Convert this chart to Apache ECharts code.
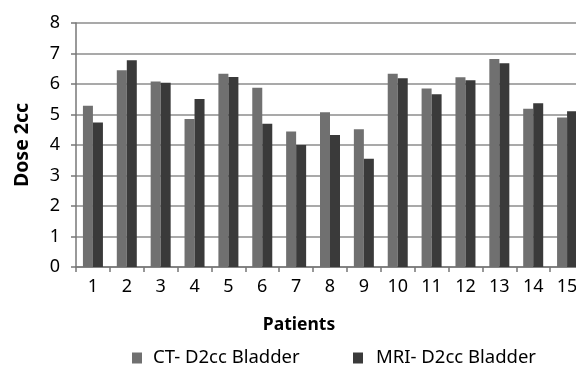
<!DOCTYPE html>
<html>
<head>
<meta charset="utf-8">
<script src="https://cdn.jsdelivr.net/npm/echarts@6/dist/echarts.min.js"></script>
<style>
html,body{margin:0;padding:0;background:#fff;overflow:hidden;width:576px;height:367px;}
#chart{width:600px;height:367px;}
</style>
</head>
<body>
<div id="chart"></div>
<script>
var categories = ['1','2','3','4','5','6','7','8','9','10','11','12','13','14','15'];
var ctValues  = [5.29, 6.45, 6.08, 4.85, 6.34, 5.88, 4.44, 5.07, 4.52, 6.34, 5.85, 6.22, 6.82, 5.19, 4.90];
var mriValues = [4.74, 6.78, 6.04, 5.51, 6.23, 4.70, 4.00, 4.33, 3.55, 6.19, 5.66, 6.12, 6.68, 5.37, 5.11];
var seriesNames = ['CT- D2cc Bladder', 'MRI- D2cc Bladder'];
var yTicks = [0, 8, 1];

var font = '"Noto Sans", "Open Sans", sans-serif';
var chart = echarts.init(document.getElementById('chart'), null, {renderer: 'canvas'});
chart.setOption({
  animation: false,
  backgroundColor: '#ffffff',
  textStyle: {fontFamily: font},
  grid: {left: 76, top: 23, width: 508, height: 244, containLabel: false},
  legend: [
    {data: [seriesNames[0]], left: 129, top: 345, padding: 3, itemWidth: 10, itemHeight: 11, icon: 'rect',
     textStyle: {fontSize: 18.5, lineHeight: 20, color: '#000', fontFamily: font, padding: [0, 0, 0, 6]}},
    {data: [seriesNames[1]], left: 350, top: 345, padding: 3, itemWidth: 10, itemHeight: 11, icon: 'rect',
     textStyle: {fontSize: 18.5, lineHeight: 20, color: '#000', fontFamily: font, padding: [0, 0, 0, 8]}}
  ],
  xAxis: {
    type: 'category',
    data: categories,
    name: 'Patients',
    nameLocation: 'middle',
    nameGap: 49,
    nameTextStyle: {fontSize: 17.5, fontWeight: 'bold', color: '#000', fontFamily: font, padding: [0, 62, 0, 0]},
    axisLine: {lineStyle: {color: '#777', width: 1.5}},
    axisTick: {show: true, alignWithLabel: false, interval: 0, length: 5, lineStyle: {color: '#777', width: 1.5}},
    axisLabel: {fontSize: 18, color: '#000', margin: 11, interval: 0, fontFamily: font},
    splitLine: {show: false}
  },
  yAxis: {
    type: 'value',
    min: yTicks[0],
    max: yTicks[1],
    interval: yTicks[2],
    name: 'Dose 2cc',
    nameLocation: 'middle',
    nameGap: 44,
    nameRotate: 90,
    nameTextStyle: {fontSize: 19.5, fontWeight: 'bold', color: '#000', fontFamily: font},
    axisLine: {show: true, lineStyle: {color: '#777', width: 1.5}},
    axisTick: {show: true, length: 5, lineStyle: {color: '#777', width: 1.5}},
    axisLabel: {fontSize: 18, color: '#000', margin: 16, fontFamily: font},
    splitLine: {show: true, lineStyle: {color: '#8c8c8c', width: 1.5}}
  },
  series: [
    {name: seriesNames[0], type: 'bar', data: ctValues, barWidth: 10, barGap: '0%',
     itemStyle: {color: '#707070'}},
    {name: seriesNames[1], type: 'bar', data: mriValues, barWidth: 10, barGap: '0%',
     itemStyle: {color: '#3a3a3a'}}
  ]
});
</script>
</body>
</html>
